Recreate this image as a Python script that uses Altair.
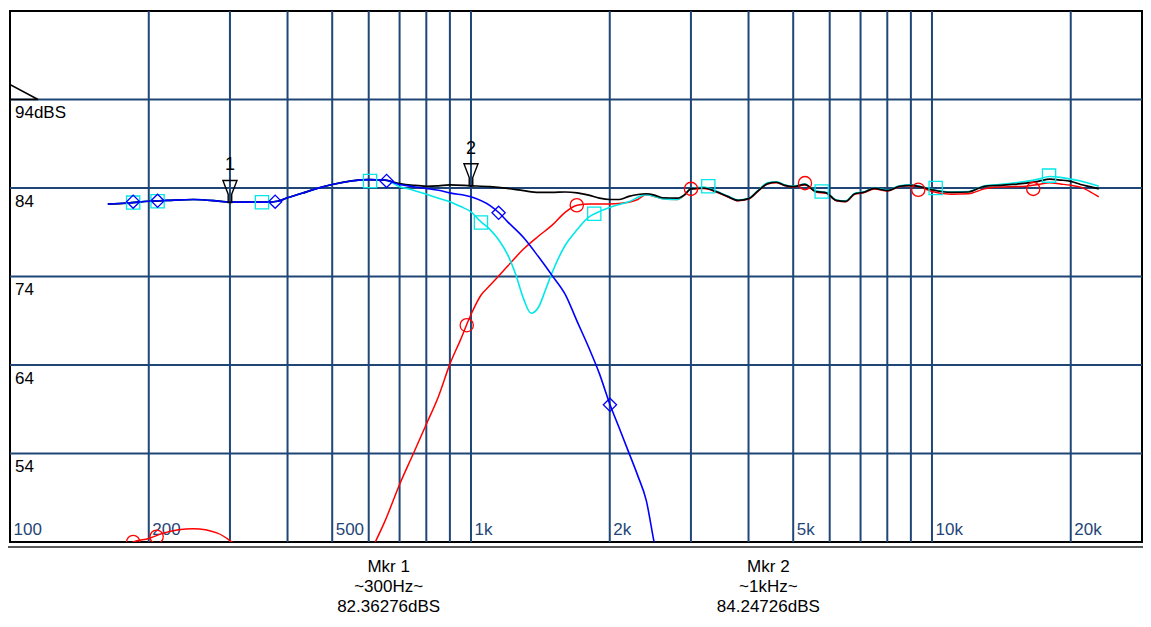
import altair as alt
import pandas as pd

# ---------------- data ----------------
# Sum response (black)
BLK_F = [163, 180, 200, 220, 250, 280, 300, 330, 360, 380,
         400, 430, 460, 500, 550, 600, 650, 700, 750, 800,
         850, 900, 1000, 1100, 1200, 1300, 1400, 1500, 1600, 1700,
         1800, 1900, 2000, 2100, 2200, 2400, 2500, 2600, 2800, 2900,
         3000, 3200, 3400, 3600, 3800, 4000, 4200, 4400, 4600, 4800,
         5000, 5300, 5600, 5900, 6200, 6500, 6800, 7100, 7500, 8000,
         8500, 9000, 9500, 10000, 11000, 12000, 13000, 14000, 15000, 16000,
         17000, 18000, 19000, 20000, 21000, 22000, 23000]
BLK_DB = [82.2, 82.3, 82.5, 82.6, 82.7, 82.55, 82.4, 82.4, 82.4, 82.5,
          82.9, 83.4, 83.9, 84.4, 84.8, 84.95, 84.9, 84.5, 84.3, 84.2,
          84.25, 84.35, 84.25, 84.15, 83.95, 83.7, 83.5, 83.5, 83.55, 83.45,
          83.2, 82.85, 82.7, 82.7, 83.05, 83.35, 83.2, 82.9, 82.85, 83.2,
          83.9, 84.0, 83.6, 83.05, 82.6, 82.8, 83.7, 84.5, 84.65, 84.3,
          84.15, 84.4, 83.6, 83.45, 82.6, 82.5, 83.35, 83.5, 83.95, 83.7,
          84.2, 84.3, 84.1, 83.8, 83.5, 83.55, 84.2, 84.3, 84.4, 84.55,
          84.75, 85.0, 84.9, 84.75, 84.4, 84.15, 83.9]

# Woofer (blue)
BLU_F = [163, 180, 200, 220, 250, 280, 300, 330, 360, 380,
         400, 430, 460, 500, 550, 600, 650, 700, 750, 800,
         850, 900, 1000, 1100, 1150, 1200, 1300, 1400, 1500, 1600,
         1700, 1800, 1900, 2000, 2100, 2200, 2300, 2400, 2500, 2600]
BLU_DB = [82.2, 82.3, 82.5, 82.6, 82.7, 82.55, 82.4, 82.4, 82.4, 82.5,
          82.9, 83.4, 83.9, 84.4, 84.8, 84.95, 84.9, 84.4, 84.15, 83.95,
          83.75, 83.45, 83.0, 82.0, 81.2, 80.2, 78.4, 76.25, 74.1, 72.0,
          68.9, 66.0, 63.0, 59.6, 56.8, 54.1, 51.5, 48.7, 43.8, 40.0]

# Reverse-polarity sum (cyan)
CYN_F = [163, 180, 200, 220, 250, 280, 300, 330, 360, 380,
         400, 430, 460, 500, 550, 600, 650, 700, 750, 800,
         850, 900, 950, 1000, 1050, 1100, 1150, 1200, 1250, 1300,
         1350, 1400, 1450, 1500, 1600, 1700, 1800, 1900, 2000, 2200,
         2400, 2500, 2600, 2800, 2900, 3000, 3200, 3400, 3600, 3800,
         4000, 4200, 4400, 4600, 4800, 5000, 5300, 5600, 5900, 6200,
         6500, 6800, 7100, 7500, 8000, 8500, 9000, 9500, 10000, 11000,
         12000, 13000, 14000, 15000, 16000, 17000, 18000, 19000, 20000, 21000,
         22000, 23000]
CYN_DB = [82.2, 82.3, 82.5, 82.6, 82.7, 82.55, 82.4, 82.4, 82.4, 82.5,
          82.9, 83.4, 83.9, 84.4, 84.8, 84.95, 84.9, 84.15, 83.75, 83.3,
          82.85, 82.45, 81.9, 81.3, 80.2, 79.3, 78.1, 76.5, 74.25, 71.5,
          69.85, 70.5, 72.45, 74.45, 77.5, 79.3, 80.7, 81.35, 81.8, 82.45,
          83.25, 83.05, 82.8, 82.7, 83.2, 83.9, 84.1, 83.65, 83.1, 82.65,
          82.85, 83.75, 84.6, 84.7, 84.35, 84.2, 84.45, 83.65, 83.5, 82.65,
          82.55, 83.4, 83.55, 84.0, 83.75, 84.25, 84.35, 84.15, 83.85, 83.55,
          83.6, 84.25, 84.4, 84.55, 84.75, 85.0, 85.3, 85.2, 85.0, 84.8,
          84.5, 84.2]

# Tweeter (red): low-frequency fragment and main curve
RED_LO_F = [178, 185, 200, 215, 250, 282, 303, 320]
RED_LO_DB = [43.3, 44.0, 44.4, 45.0, 45.5, 45.0, 44.0, 43.0]
RED_HI_F = [600, 620, 650, 700, 750, 800, 850, 900, 950, 1000,
            1050, 1100, 1200, 1300, 1400, 1500, 1600, 1700, 1800, 2000,
            2200, 2300, 2400, 2500, 2600, 2800, 2900, 3000, 3200, 3400,
            3600, 3800, 4000, 4200, 4400, 4600, 4800, 5000, 5300, 5600,
            5900, 6200, 6500, 6800, 7100, 7500, 8000, 8500, 9000, 9500,
            10000, 11000, 12000, 13000, 14000, 15000, 16000, 17000, 18000, 19000,
            20000, 21000, 22000, 23000]
RED_HI_DB = [42.5, 44.0, 46.3, 50.5, 54.0, 57.3, 60.45, 64.1, 66.9, 69.7,
             71.85, 73.0, 75.15, 77.1, 78.55, 79.8, 81.25, 82.05, 82.2, 82.2,
             82.4, 82.7, 83.25, 83.05, 82.8, 82.7, 83.15, 83.85, 83.95, 83.55,
             83.0, 82.55, 82.75, 83.65, 84.45, 84.6, 84.25, 84.1, 84.35, 83.55,
             83.4, 82.55, 82.45, 83.3, 83.45, 83.9, 83.65, 84.15, 84.25, 84.05,
             83.6, 83.3, 83.35, 83.9, 84.1, 84.15, 84.2, 84.4, 84.6, 84.45,
             84.3, 84.1, 83.6, 83.0]

# Curve symbols
BLU_MK_F = [185, 209, 376, 656, 1148, 2002]
BLU_MK_DB = [82.45, 82.55, 82.45, 84.8, 81.2, 59.5]
CYN_MK_F = [185, 209, 352, 604, 1051, 1851, 3272, 5764, 10186, 17945]
CYN_MK_DB = [82.35, 82.5, 82.4, 84.8, 80.1, 81.1, 84.2, 83.6, 84.0, 85.4]
RED_MK_F = [185, 208, 979, 1696, 3001, 5303, 9340, 16585]
RED_MK_DB = [44.0, 44.6, 68.5, 82.05, 83.9, 84.55, 83.8, 83.9]

# Cursors
MKR_NAME = ["1", "2"]
MKR_F = [300, 1000]
MKR_DB = [82.36276, 84.24726]
MKR_FTXT = ["~300Hz~", "~1kHz~"]

# Reference level
REF_LEVEL = [94]

# Axes
X_GRID = [200, 300, 400, 500, 600, 700, 800, 900, 1000, 2000, 3000, 4000,
          5000, 6000, 7000, 8000, 9000, 10000, 20000]
X_LABEL_F = [100, 200, 500, 1000, 2000, 5000, 10000, 20000]
X_LABEL_TXT = ["100", "200", "500", "1k", "2k", "5k", "10k", "20k"]
Y_GRID = [54, 64, 74, 84, 94]
Y_LABEL_TXT = ["54", "64", "74", "84", "94dBS"]

# ---------------- chart ----------------
W, H = 1132, 531
F_MIN, F_MAX = 100, 28550
DB_MIN, DB_MAX = 44, 104
GRID = "#1f4677"
FONT = "Liberation Sans"

xs = alt.Scale(type="log", domain=[F_MIN, F_MAX], nice=False)
ys = alt.Scale(domain=[DB_MIN, DB_MAX], nice=False, zero=False)


def X():
    return alt.X("f:Q", scale=xs, axis=None)


def Y():
    return alt.Y("db:Q", scale=ys, axis=None)


def df(f, db, **extra):
    d = pd.DataFrame({"f": f, "db": db})
    for k, v in extra.items():
        d[k] = v
    return d


xgrid = alt.Chart(pd.DataFrame({"f": X_GRID})).mark_rule(
    color=GRID, strokeWidth=2).encode(x=X())
ygrid = alt.Chart(pd.DataFrame({"db": Y_GRID})).mark_rule(
    color=GRID, strokeWidth=2).encode(y=Y())

xlab = alt.Chart(pd.DataFrame({"f": X_LABEL_F, "t": X_LABEL_TXT})).mark_text(
    align="left", baseline="alphabetic", dx=3.5, fontSize=17, font=FONT,
    color=GRID).encode(x=X(), y=alt.value(H - 7), text="t:N")
ylab = alt.Chart(pd.DataFrame({"db": Y_GRID, "t": Y_LABEL_TXT})).mark_text(
    align="left", baseline="alphabetic", dy=18.5, fontSize=17, font=FONT,
    color="black").encode(x=alt.value(5), y=Y(), text="t:N")

ref = alt.Chart(pd.DataFrame({"f": [F_MIN], "db": REF_LEVEL})).mark_point(
    shape="M0,-1L0,0L1.87,0Z", size=900, filled=False, color="black",
    strokeWidth=1.5, opacity=1, clip=False).encode(x=X(), y=Y())


def curve(d, color, width=1.6):
    return alt.Chart(d).mark_line(color=color, strokeWidth=width, clip=True,
                                  interpolate="monotone").encode(
        x=X(), y=Y(), detail="seg:N")


red_df = pd.concat([df(RED_LO_F, RED_LO_DB, seg="a"),
                    df(RED_HI_F, RED_HI_DB, seg="b")])
red = curve(red_df, "#ff0000", 1.5)
cyan = curve(df(CYN_F, CYN_DB, seg="a"), "#00e8e8", 1.6)
black = curve(df(BLK_F, BLK_DB, seg="a"), "#000000", 1.7)
blue = curve(df(BLU_F, BLU_DB, seg="a"), "#0000ff", 1.6)


def symbols(f, db, shape, color):
    return alt.Chart(df(f, db)).mark_point(
        shape=shape, size=175, filled=False, color=color, strokeWidth=1.3,
        opacity=1, clip=True).encode(x=X(), y=Y())


red_mk = symbols(RED_MK_F, RED_MK_DB, "circle", "#ff0000")
cyn_mk = symbols(CYN_MK_F, CYN_MK_DB, "square", "#00e8e8")
blu_mk = symbols(BLU_MK_F, BLU_MK_DB, "diamond", "#0000ff")

mkr_df = pd.DataFrame({"f": MKR_F, "db": MKR_DB, "name": MKR_NAME})
cursor = alt.Chart(mkr_df).mark_point(
    shape="M-0.64,-1L0.64,-1L0.16,0.25L0.16,1L-0.16,1L-0.16,0.25Z",
    size=484, filled=False, color="black", strokeWidth=1.4, opacity=1,
    yOffset=-11).encode(x=X(), y=Y())
cursor_lab = alt.Chart(mkr_df).mark_text(
    dy=-37, fontSize=18, font=FONT, color="black", baseline="middle").encode(
    x=X(), y=Y(), text="name:N")

# read-out under the plot (centred at 1/3 and 2/3 of the reference frame width)
FRAME_W = 1139
rows = []
for i, (n, ft, v) in enumerate(zip(MKR_NAME, MKR_FTXT, MKR_DB)):
    for j, t in enumerate([f"Mkr {n}", ft, f"{v:.5f}dBS"]):
        rows.append({"px": FRAME_W * (i + 1) / 3 - 1, "py": H + 25 + 20 * j, "t": t})
readout = alt.Chart(pd.DataFrame(rows)).mark_text(
    fontSize=17, font=FONT, color="black", baseline="middle", align="center",
    clip=False).encode(
    x=alt.X("px:Q", scale=None), y=alt.Y("py:Q", scale=None), text="t:N")

bottom_border = alt.Chart(pd.DataFrame({"k": [0]})).mark_rule(
    color="#222222", strokeWidth=1.5, clip=False).encode(
    x=alt.value(-2), x2=alt.value(W + 1), y=alt.value(H + 5))

chart = alt.layer(
    xgrid, ygrid, xlab, ylab, ref,
    red, cyan, black, blue,
    red_mk, cyn_mk, blu_mk,
    cursor, cursor_lab, readout, bottom_border,
).properties(
    width=W, height=H,
    autosize=alt.AutoSizeParams(type="none"),
    padding={"left": 2, "top": 3, "right": 1, "bottom": 73},
    background="white",
).configure_view(
    stroke="black", strokeWidth=2
)

chart.save("out.html", embed_options={"renderer": "svg", "actions": False})
